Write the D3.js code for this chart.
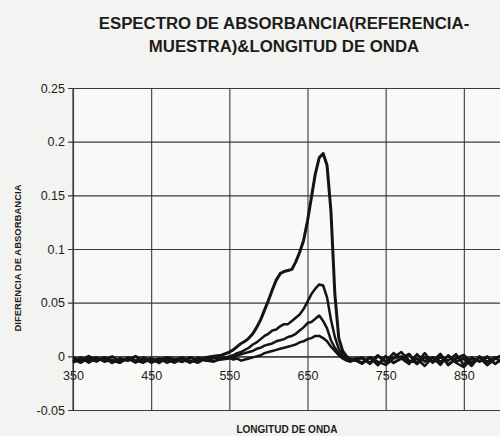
<!DOCTYPE html>
<html>
<head>
<meta charset="utf-8">
<script src="https://cdn.jsdelivr.net/npm/d3@7"></script>
<style>
  html, body { margin: 0; padding: 0; background: #f3f3f1; }
  svg { display: block; }
  text { font-family: "Liberation Sans", Arial, sans-serif; fill: #1c1c1c; }
</style>
</head>
<body>
<svg id="chart" width="500" height="436"></svg>
<script>
const titleLines = ["ESPECTRO DE ABSORBANCIA(REFERENCIA-", "MUESTRA)&LONGITUD DE ONDA"];
const xLabel = "LONGITUD DE ONDA";
const yLabel = "DIFERENCIA DE ABSORBANCIA";

const xTicks = [350, 450, 550, 650, 750, 850, 950];
const yTicks = [-0.05, 0, 0.05, 0.1, 0.15, 0.2, 0.25];

const wavelength = [350,360,370,380,390,400,410,420,430,440,450,460,470,480,490,500,510,520,530,540,
  550,555,560,565,570,575,580,585,590,595,600,605,610,615,620,625,630,635,640,645,650,655,660,665,670,675,680,685,690,695,700,705,710,
  720,730,740,750,760,770,780,790,800,810,820,830,840,850,860,870,880,890,900,910,920,930,940,950];

const series1 = [-0.001,-0.005,0.000,-0.004,-0.001,-0.006,-0.002,-0.004,0.000,-0.005,-0.002,-0.006,-0.001,-0.003,-0.005,-0.001,-0.004,-0.001,0.000,0.001,
  0.004,0.006,0.009,0.012,0.014,0.017,0.021,0.027,0.034,0.043,0.052,0.062,0.071,0.077,0.079,0.080,0.081,0.088,0.097,0.108,0.126,0.148,0.170,0.185,0.189,0.178,0.135,0.058,0.017,0.005,0.000,-0.004,-0.003,
  -0.006,-0.001,-0.008,0.000,-0.006,-0.002,0.002,-0.007,-0.001,-0.005,0.002,-0.008,-0.002,0.001,-0.006,-0.001,-0.008,-0.002,0.001,-0.006,-0.004,-0.001,-0.005,-0.007];

const series2 = [-0.005,-0.001,-0.006,-0.002,-0.004,0.000,-0.005,-0.002,-0.006,-0.001,-0.004,-0.002,-0.006,-0.003,-0.001,-0.005,-0.002,-0.004,-0.001,-0.002,
  0.000,0.001,0.003,0.004,0.006,0.008,0.011,0.013,0.016,0.019,0.021,0.024,0.025,0.028,0.030,0.030,0.033,0.036,0.039,0.044,0.051,0.058,0.063,0.067,0.066,0.055,0.034,0.018,0.007,0.001,-0.002,-0.004,-0.002,
  -0.002,-0.007,0.000,-0.005,0.003,-0.002,-0.007,0.002,-0.005,-0.001,-0.008,0.001,-0.005,-0.002,-0.009,0.000,-0.005,-0.001,-0.007,-0.002,0.000,-0.006,-0.002,-0.005];

const series3 = [-0.003,-0.006,-0.002,-0.005,-0.001,-0.004,-0.006,-0.002,-0.004,-0.006,-0.002,-0.005,-0.003,-0.006,-0.002,-0.004,-0.006,-0.002,-0.004,-0.003,
  -0.002,-0.001,0.001,0.002,0.003,0.004,0.005,0.007,0.008,0.010,0.011,0.012,0.014,0.015,0.016,0.018,0.019,0.021,0.024,0.027,0.031,0.032,0.035,0.038,0.033,0.026,0.015,0.008,0.003,-0.001,-0.003,-0.002,-0.004,
  -0.001,-0.006,0.001,-0.005,-0.001,0.004,-0.004,-0.006,0.003,-0.006,-0.001,-0.004,0.002,-0.008,-0.001,-0.005,0.000,-0.007,-0.001,-0.005,-0.008,-0.002,-0.001,-0.006];

const series4 = [-0.006,-0.002,-0.004,-0.001,-0.005,-0.003,-0.006,-0.001,-0.004,-0.002,-0.006,-0.003,-0.001,-0.005,-0.003,-0.006,-0.001,-0.004,-0.005,-0.002,
  -0.001,-0.003,-0.002,-0.004,-0.003,-0.002,-0.001,0.000,0.001,0.003,0.004,0.005,0.006,0.007,0.008,0.009,0.010,0.011,0.013,0.014,0.016,0.017,0.019,0.019,0.017,0.014,0.009,0.005,0.001,-0.002,-0.004,-0.005,-0.003,
  -0.007,-0.001,-0.005,-0.008,-0.002,0.000,-0.006,-0.002,-0.009,-0.001,-0.005,0.000,-0.006,-0.010,-0.002,-0.005,-0.001,-0.007,-0.002,-0.006,-0.001,-0.005,-0.002,-0.006];

const allSeries = [series4, series3, series2, series1];

const svg = d3.select("#chart");
const plot = { left: 73, right: 542, top: 88, bottom: 410 };

const x = d3.scaleLinear().domain([350, 950]).range([plot.left, plot.right]);
const y = d3.scaleLinear().domain([-0.05, 0.25]).range([plot.bottom, plot.top]);

svg.append("rect")
  .attr("x", plot.left).attr("y", plot.top)
  .attr("width", plot.right - plot.left).attr("height", plot.bottom - plot.top)
  .attr("fill", "#f9f9f8");

const gridColor = "#3a3a3a";
const fmt = d => String(+d.toFixed(2));

svg.append("g")
  .attr("transform", `translate(${plot.left},0)`)
  .call(d3.axisLeft(y).tickValues(yTicks).tickSize(-(plot.right - plot.left)).tickSizeOuter(0).tickFormat(fmt))
  .call(g => g.select(".domain").remove())
  .call(g => g.selectAll(".tick line").attr("stroke", gridColor).attr("stroke-width", 1.1).attr("x1", -5))
  .call(g => g.selectAll(".tick text").attr("x", -8).attr("font-size", "12.5px").attr("fill", "#1c1c1c"));

svg.append("g")
  .attr("transform", `translate(0,${plot.bottom})`)
  .call(d3.axisBottom(x).tickValues(xTicks).tickSize(-(plot.bottom - plot.top)).tickFormat(""))
  .call(g => g.select(".domain").remove())
  .call(g => g.selectAll(".tick line").attr("stroke", gridColor).attr("stroke-width", 1.1));

svg.append("g")
  .attr("transform", `translate(0,${y(0)})`)
  .call(d3.axisBottom(x).tickValues(xTicks.slice(0, 6)).tickSize(0).tickPadding(15).tickFormat(fmt))
  .call(g => g.select(".domain").attr("stroke", gridColor).attr("stroke-width", 1.1))
  .call(g => g.selectAll(".tick text").attr("font-size", "12.5px").attr("fill", "#1c1c1c"));

svg.append("line")
  .attr("x1", plot.left).attr("x2", plot.left)
  .attr("y1", plot.top).attr("y2", plot.bottom)
  .attr("stroke", gridColor).attr("stroke-width", 1.2);

const line = d3.line()
  .x((d, i) => x(wavelength[i]))
  .y(d => y(d))
  .curve(d3.curveLinear);

svg.append("g").selectAll("path")
  .data(allSeries)
  .join("path")
  .attr("d", d => line(d))
  .attr("fill", "none")
  .attr("stroke", "#141414")
  .attr("stroke-width", (d, i) => i === 3 ? 3 : 2.5)
  .attr("stroke-linejoin", "round");

svg.append("text")
  .attr("text-anchor", "middle")
  .attr("font-weight", "bold")
  .attr("font-size", "16.8px")
  .selectAll("tspan")
  .data(titleLines)
  .join("tspan")
  .attr("x", 284)
  .attr("y", (d, i) => 29 + i * 23)
  .text(d => d);

svg.append("text")
  .attr("x", 287).attr("y", 433)
  .attr("text-anchor", "middle")
  .attr("font-weight", "bold")
  .attr("font-size", "10px")
  .text(xLabel);

svg.append("text")
  .attr("transform", "translate(21,258) rotate(-90)")
  .attr("text-anchor", "middle")
  .attr("font-weight", "bold")
  .attr("font-size", "9.5px")
  .text(yLabel);
</script>
</body>
</html>
